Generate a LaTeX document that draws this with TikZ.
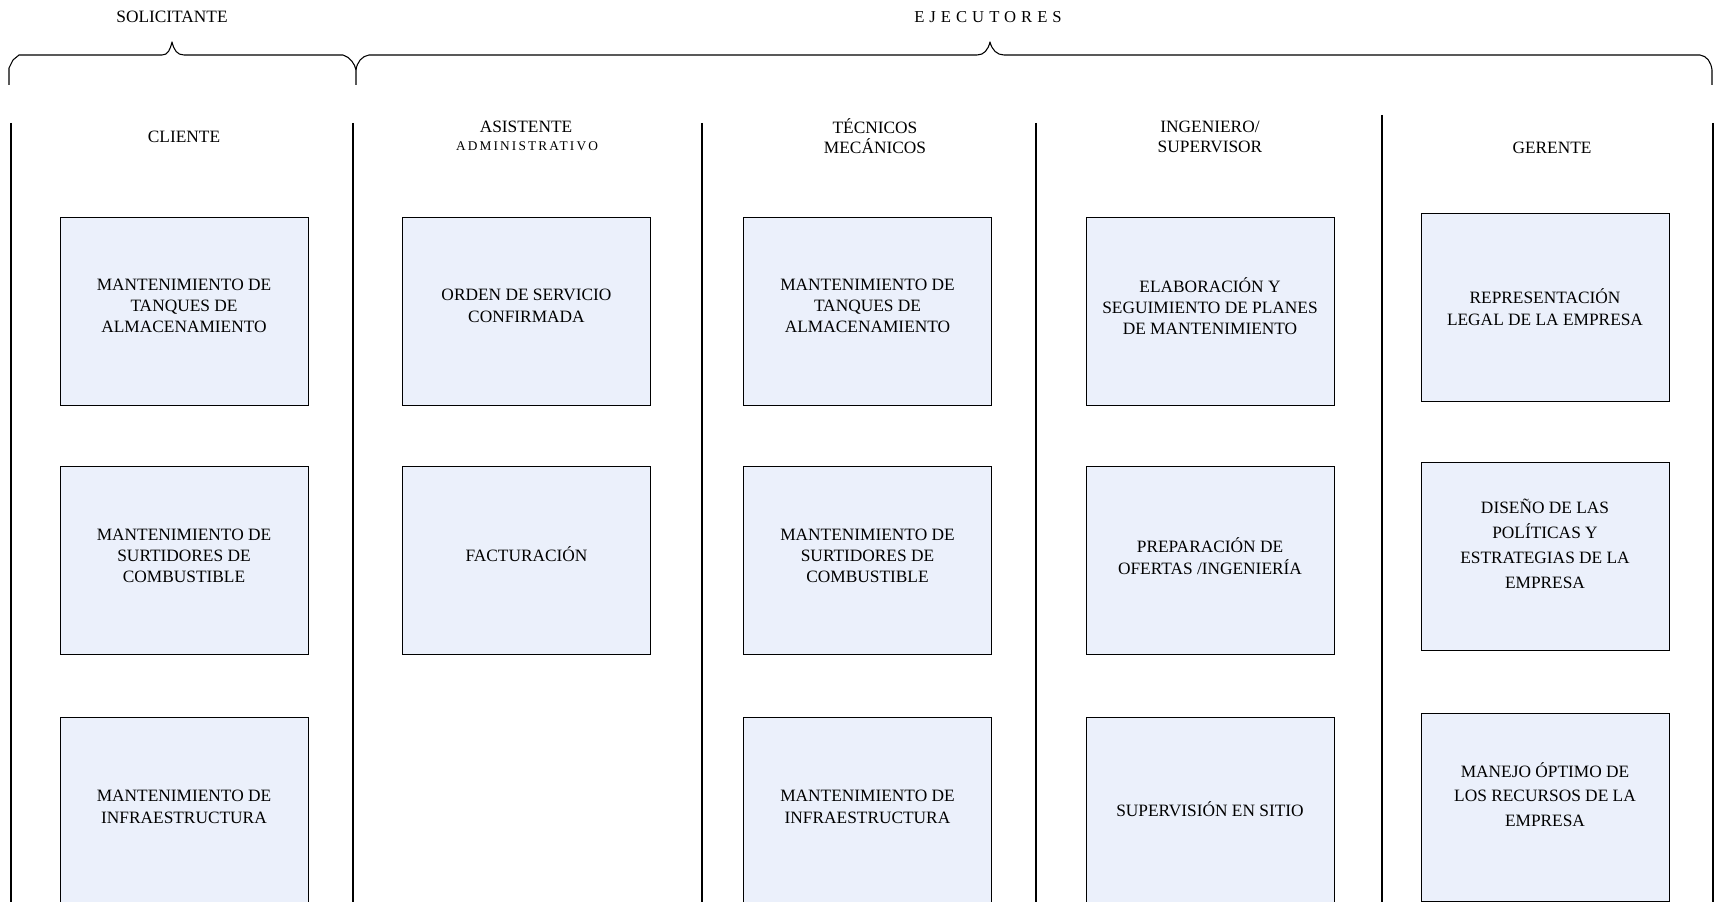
\documentclass[tikz,border=0pt]{standalone}
\usepackage{fontspec}
\setmainfont{Liberation Serif}
\definecolor{boxfill}{RGB}{235,240,251}
\begin{document}
\begin{tikzpicture}[x=0.75pt,y=-0.75pt,
  box/.style={draw=black, line width=0.7pt, fill=boxfill, minimum width=186pt, minimum height=141pt, inner sep=0pt},
  txt/.style={align=center, font=\fontsize{13}{16}\selectfont, inner sep=0pt},
  txtw/.style={align=center, font=\fontsize{13}{18.6}\selectfont, inner sep=0pt},
  head/.style={align=center, font=\fontsize{13}{15}\selectfont, inner sep=0pt},
  col/.style={line width=1.9pt, black},
  brace/.style={line width=0.8pt, black, line join=round}]
\useasboundingbox (0,0) rectangle (1716,902);

% top labels
\node[head] (sol) at (172,17) {SOLICITANTE};
\node[head, font=\fontsize{12.5}{14}\selectfont\addfontfeature{LetterSpace=30}] (eje) at (988,17) {EJECUTORES};

% braces
\draw[brace] (9,85) -- (9,68) -- (13,60) -- (19,55) -- (162,55) .. controls (168,55) and (170,50) .. (172,42) .. controls (174,50) and (177,55) .. (184,55) -- (343,55) .. controls (350,57) and (355,64) .. (356,70) -- (356,85);
\draw[brace] (356,70) .. controls (357,62) and (362,56) .. (369,55) -- (977,55) .. controls (984,55) and (988,50) .. (990,42) .. controls (992,50) and (997,55) .. (1004,55) -- (1700,55) .. controls (1707,56) and (1711,62) .. (1712,70) -- (1712,85);

% column lines
\draw[col] (11,123) -- (11,902);
\draw[col] (353,123) -- (353,902);
\draw[col] (702,123) -- (702,902);
\draw[col] (1036,123) -- (1036,902);
\draw[col] (1382,115) -- (1382,902);
\draw[col] (1713,123) -- (1713,902);

% column headers
\node[head] (hcli) at (184,137) {CLIENTE};
\node[head] (hasi) at (526,127) {ASISTENTE};
\node[head, font=\fontsize{10}{11}\selectfont\addfontfeature{LetterSpace=16}] (hadm) at (527,146) {ADMINISTRATIVO};
\node[head] (htec) at (875,136.5) {TÉCNICOS\\MECÁNICOS};
\node[head] (hing) at (1210,136.5) {INGENIERO/\\SUPERVISOR};
\node[head] (hger) at (1552,148) {GERENTE};

% column 1
\node[box] (c1a) at (184,311) {};
\node[txt] (t1a) at (184,306) {MANTENIMIENTO DE\\TANQUES  DE\\ALMACENAMIENTO};
\node[box] (c1b) at (184,560) {};
\node[txt] (t1b) at (184,556) {MANTENIMIENTO DE\\SURTIDORES DE\\COMBUSTIBLE};
\node[box] (c1c) at (184,811) {};
\node[txt] (t1c) at (184,807) {MANTENIMIENTO DE\\INFRAESTRUCTURA};

% column 2
\node[box] (c2a) at (526.5,311) {};
\node[txt] (t2a) at (526.5,306) {ORDEN  DE SERVICIO\\CONFIRMADA};
\node[box] (c2b) at (526.5,560) {};
\node[txt] (t2b) at (526.5,554) {FACTURACIÓN};

% column 3
\node[box] (c3a) at (867.5,311) {};
\node[txt] (t3a) at (867.5,306) {MANTENIMIENTO DE\\TANQUES  DE\\ALMACENAMIENTO};
\node[box] (c3b) at (867.5,560) {};
\node[txt] (t3b) at (867.5,556) {MANTENIMIENTO DE\\SURTIDORES DE\\COMBUSTIBLE};
\node[box] (c3c) at (867.5,811) {};
\node[txt] (t3c) at (867.5,807) {MANTENIMIENTO DE\\INFRAESTRUCTURA};

% column 4
\node[box] (c4a) at (1210,311) {};
\node[txt] (t4a) at (1210,306) {ELABORACIÓN  Y\\SEGUIMIENTO DE PLANES\\DE MANTENIMIENTO};
\node[box] (c4b) at (1210,560) {};
\node[txt] (t4b) at (1210,556) {PREPARACIÓN DE\\OFERTAS /INGENIERÍA};
\node[box] (c4c) at (1210,811) {};
\node[txt] (t4c) at (1210,809) {SUPERVISIÓN EN SITIO};

% column 5
\node[box] (c5a) at (1545,307.5) {};
\node[txt] (t5a) at (1545,307) {REPRESENTACIÓN\\LEGAL DE LA EMPRESA};
\node[box] (c5b) at (1545,556.5) {};
\node[txtw] (t5b) at (1545,544) {DISEÑO DE LAS\\POLÍTICAS Y\\ESTRATEGIAS DE LA\\EMPRESA};
\node[box] (c5c) at (1545,807) {};
\node[txtw] (t5c) at (1545,794.5) {MANEJO ÓPTIMO DE\\LOS RECURSOS DE LA\\EMPRESA};
\end{tikzpicture}
\end{document}
